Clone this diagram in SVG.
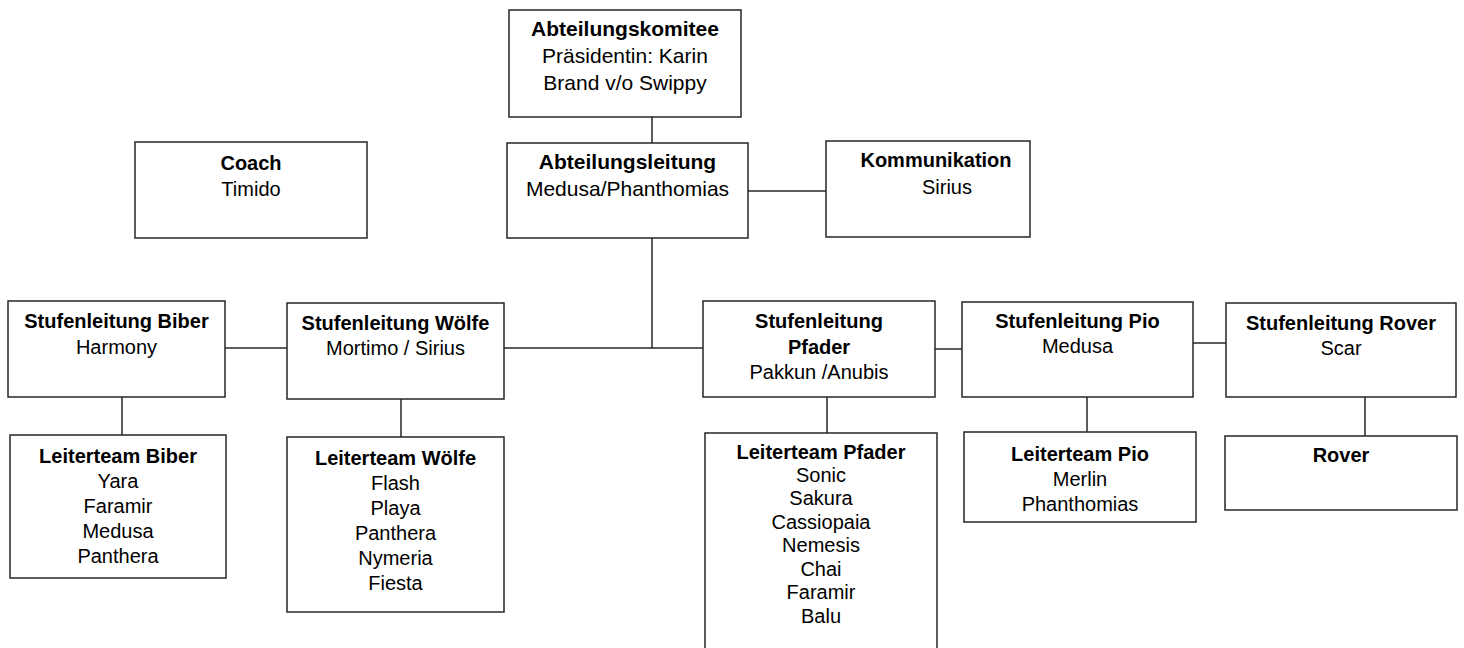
<svg xmlns="http://www.w3.org/2000/svg" width="1464" height="648" viewBox="0 0 1464 648">
<style>
.box{fill:#fff;stroke:#262626;stroke-width:1.5}
.ln{stroke:#262626;stroke-width:1.5;fill:none}
text{font-family:"Liberation Sans",Arial,sans-serif;font-size:20px;fill:#000;text-anchor:middle}
.b{font-weight:bold}
.big{font-size:21px}
</style>
<rect width="1464" height="648" fill="#fff"/>
<g id="connectors">
<path class="ln" d="M652 117V143"/>
<path class="ln" d="M748 191H826"/>
<path class="ln" d="M652 238V348"/>
<path class="ln" d="M504 348H703"/>
<path class="ln" d="M225 348H287"/>
<path class="ln" d="M935 349H962"/>
<path class="ln" d="M1193 343H1226"/>
<path class="ln" d="M122 397V435"/>
<path class="ln" d="M401 399V437"/>
<path class="ln" d="M827 397V433"/>
<path class="ln" d="M1087 397V432"/>
<path class="ln" d="M1365 397V436"/>
</g>
<g id="komitee">
<rect class="box" x="509" y="10" width="232" height="107"/>
<text class="b big" x="625" y="36">Abteilungskomitee</text>
<text class="big" x="625" y="63">Präsidentin: Karin</text>
<text class="big" x="625" y="90">Brand v/o Swippy</text>
</g>
<g id="abteilungsleitung">
<rect class="box" x="507" y="143" width="241" height="95"/>
<text class="b big" x="627.5" y="169">Abteilungsleitung</text>
<text class="big" x="627.5" y="196">Medusa/Phanthomias</text>
</g>
<g id="kommunikation">
<rect class="box" x="826" y="141" width="204" height="96"/>
<text class="b" x="936" y="167">Kommunikation</text>
<text x="947" y="194">Sirius</text>
</g>
<g id="coach">
<rect class="box" x="135" y="142" width="232" height="96"/>
<text class="b" x="251" y="170">Coach</text>
<text x="251" y="196">Timido</text>
</g>
<g id="stufe-biber">
<rect class="box" x="8" y="301" width="217" height="96"/>
<text class="b" x="116.5" y="328">Stufenleitung Biber</text>
<text x="116.5" y="354">Harmony</text>
</g>
<g id="stufe-woelfe">
<rect class="box" x="287" y="303" width="217" height="96"/>
<text class="b" x="395.5" y="330">Stufenleitung Wölfe</text>
<text x="395.5" y="355">Mortimo / Sirius</text>
</g>
<g id="stufe-pfader">
<rect class="box" x="703" y="301" width="232" height="96"/>
<text class="b" x="819" y="328">Stufenleitung</text>
<text class="b" x="819" y="354">Pfader</text>
<text x="819" y="379">Pakkun /Anubis</text>
</g>
<g id="stufe-pio">
<rect class="box" x="962" y="302" width="231" height="95"/>
<text class="b" x="1077.5" y="328">Stufenleitung Pio</text>
<text x="1077.5" y="353">Medusa</text>
</g>
<g id="stufe-rover">
<rect class="box" x="1226" y="303" width="230" height="94"/>
<text class="b" x="1341" y="330">Stufenleitung Rover</text>
<text x="1341" y="355">Scar</text>
</g>
<g id="lt-biber">
<rect class="box" x="10" y="435" width="216" height="143"/>
<text class="b" x="118" y="463">Leiterteam Biber</text>
<text x="118" y="488">Yara</text>
<text x="118" y="513">Faramir</text>
<text x="118" y="538">Medusa</text>
<text x="118" y="563">Panthera</text>
</g>
<g id="lt-woelfe">
<rect class="box" x="287" y="437" width="217" height="175"/>
<text class="b" x="395.5" y="465">Leiterteam Wölfe</text>
<text x="395.5" y="490">Flash</text>
<text x="395.5" y="515">Playa</text>
<text x="395.5" y="540">Panthera</text>
<text x="395.5" y="565">Nymeria</text>
<text x="395.5" y="590">Fiesta</text>
</g>
<g id="lt-pfader">
<rect class="box" x="705" y="433" width="232" height="230"/>
<text class="b" x="821" y="459">Leiterteam Pfader</text>
<text x="821" y="482">Sonic</text>
<text x="821" y="505">Sakura</text>
<text x="821" y="529">Cassiopaia</text>
<text x="821" y="552">Nemesis</text>
<text x="821" y="576">Chai</text>
<text x="821" y="599">Faramir</text>
<text x="821" y="623">Balu</text>
</g>
<g id="lt-pio">
<rect class="box" x="964" y="432" width="232" height="90"/>
<text class="b" x="1080" y="461">Leiterteam Pio</text>
<text x="1080" y="486">Merlin</text>
<text x="1080" y="511">Phanthomias</text>
</g>
<g id="rover">
<rect class="box" x="1225" y="436" width="232" height="74"/>
<text class="b" x="1341" y="462">Rover</text>
</g>
</svg>
